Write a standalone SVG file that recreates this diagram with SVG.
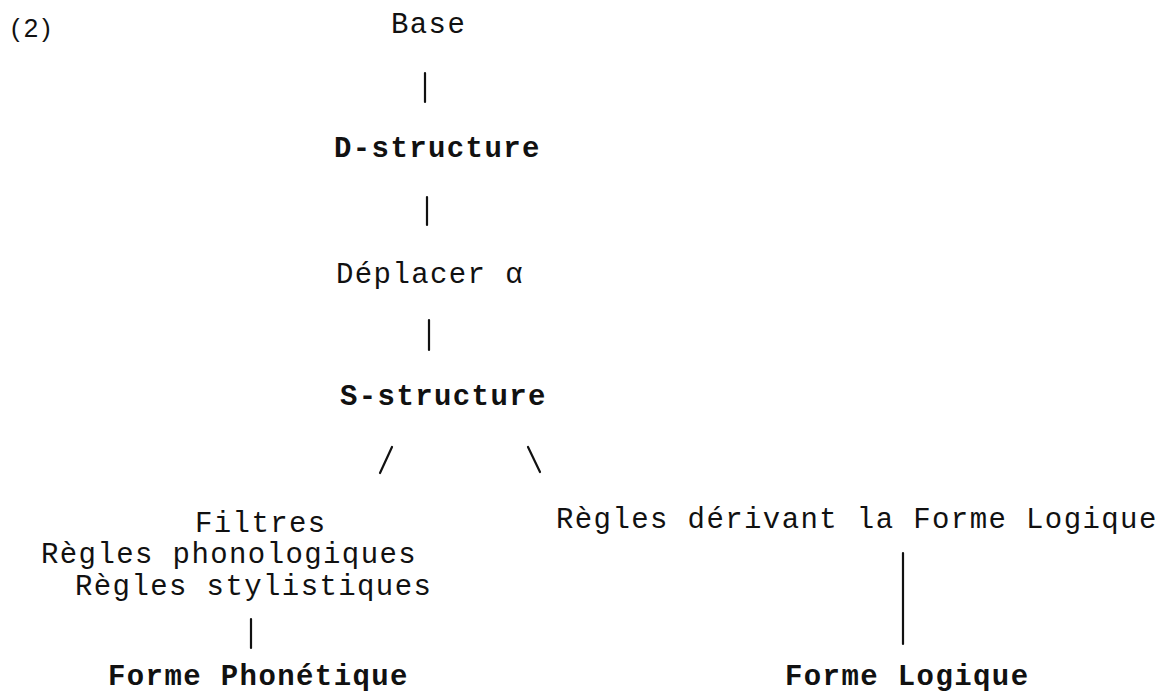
<svg xmlns="http://www.w3.org/2000/svg" width="1164" height="692" viewBox="0 0 1164 692">
<style>
.t{font-family:"Liberation Mono","DejaVu Sans Mono",monospace;font-size:29px;letter-spacing:1.4px;fill:#111}
.b{font-weight:bold}
.n{font-family:"Liberation Sans",Arial,sans-serif;font-size:26px;letter-spacing:4px;fill:#111}
.c{stroke:#111;stroke-width:2.2;fill:none;stroke-linecap:round}
</style>
<rect width="1164" height="692" fill="#fff"/>
<g id="label"><text class="n" x="11" y="37">(2)</text></g>
<g id="base"><text class="t" x="391" y="33">Base</text></g>
<g id="dstructure"><text class="t b" x="334" y="157">D-structure</text></g>
<g id="deplacer"><text class="t" x="336" y="283">Déplacer α</text></g>
<g id="sstructure"><text class="t b" x="340" y="405">S-structure</text></g>
<g id="regles-pf">
<text class="t" x="195" y="532">Filtres</text>
<text class="t" x="41" y="563">Règles phonologiques</text>
<text class="t" x="75" y="595">Règles stylistiques</text>
</g>
<g id="regles-fl"><text class="t" x="556" y="528">Règles dérivant la Forme Logique</text></g>
<g id="pf"><text class="t b" x="108" y="685">Forme Phonétique</text></g>
<g id="fl"><text class="t b" x="785" y="685">Forme Logique</text></g>
<g id="connectors" class="c">
<line x1="425" y1="73" x2="425" y2="102"/>
<line x1="427" y1="197" x2="427" y2="225"/>
<line x1="429" y1="320" x2="429" y2="350"/>
<line x1="392" y1="447" x2="380" y2="473"/>
<line x1="528" y1="447" x2="540" y2="472"/>
<line x1="251" y1="619" x2="251" y2="648"/>
<line x1="903" y1="553" x2="903" y2="644"/>
</g>
</svg>
